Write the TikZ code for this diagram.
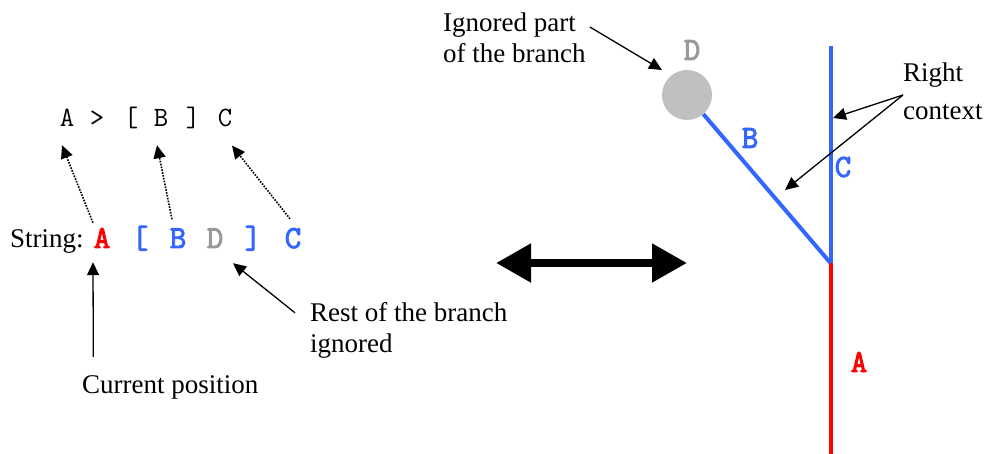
\documentclass[tikz,border=0pt]{standalone}
\usepackage{fontspec}
\setmainfont{Liberation Serif}
\newfontfamily\monofont{Latin Modern Mono}
\newfontfamily\monobfont[FakeBold=3]{Latin Modern Mono}
\usetikzlibrary{arrows.meta}
\definecolor{treeblue}{HTML}{3366FF}
\definecolor{treered}{HTML}{FF0000}
\definecolor{dgrey}{HTML}{999999}
\definecolor{cgrey}{HTML}{C0C0C0}
\tikzset{
  serif/.style={inner sep=0pt, font=\fontsize{27}{31}\selectfont, align=left},
  monoreg/.style={inner sep=0pt, anchor=base, font=\monofont\fontsize{28}{28}\selectfont},
  monobold/.style={inner sep=0pt, anchor=base, font=\monobfont\fontsize{32}{32}\selectfont},
  treelabel/.style={inner sep=0pt, font=\monobfont\fontsize{32}{32}\selectfont},
  arr/.style={-{Triangle[length=13pt,width=12pt]}, line width=1.3pt},
  dotarr/.style={-{Triangle[length=13pt,width=12pt]}, line width=1.6pt, dash pattern=on 1.6pt off 1.3pt},
  branch/.style={line width=4pt},
}
\begin{document}
\begin{tikzpicture}[x=1pt,y=-1pt]
\useasboundingbox (0,0) rectangle (985,454);
% top pattern
\node[monoreg] (tA) at (67,127) {A};
\node[monoreg] (tgt) at (97,127) {>};
\node[monoreg] (tlb) at (131,127) {[};
\node[monoreg] (tB) at (161,127) {B};
\node[monoreg] (trb) at (193,127) {]};
\node[monoreg] (tC) at (225,127) {C};
% string
\node[serif, anchor=base west] (str) at (10,248) {String:};
\node[monobold, text=treered] (sA) at (102,248) {A};
\node[monobold, text=treeblue] (slb) at (140,248) {[};
\node[monobold, text=treeblue] (sB) at (178,248) {B};
\node[monobold, text=dgrey] (sD) at (215,248) {D};
\node[monobold, text=treeblue] (srb) at (253,248) {]};
\node[monobold, text=treeblue] (sC) at (293,248) {C};
% dotted arrows
\draw[dotarr] ([xshift=-9pt,yshift=5pt]sA.north) -- ([xshift=-5pt,yshift=-18pt]tA.south);
\draw[dotarr] ([xshift=-6pt,yshift=9pt]sB.north) -- ([xshift=-4pt,yshift=-18pt]tB.south);
\draw[dotarr] ([xshift=-3pt,yshift=9pt]sC.north) -- ([xshift=7pt,yshift=-18pt]tC.south);
% current position
\node[serif, anchor=base west] (cur) at (82,393) {Current position};
\draw[arr] ([xshift=-77pt,yshift=18pt]cur.north) -- ([xshift=-9pt,yshift=-14pt]sA.south);
% rest of the branch
\node[serif, anchor=base west] (rest) at (310,352) {Rest of the branch\\ignored};
\draw[arr] ([xshift=-15pt,yshift=-11pt]rest.north west) -- ([xshift=18pt,yshift=-15pt]sD.south);
% double arrow
\coordinate (dl) at (496,263);
\coordinate (dr) at (687,263);
\draw[line width=8pt, {Triangle[length=35pt,width=37pt]}-{Triangle[length=35pt,width=37pt]}] (dl) -- (dr);
% tree
\coordinate (root) at (830.5,263);
\coordinate (top) at (830.5,46);
\coordinate (bot) at (830.5,456);
\node[circle, fill=cgrey, minimum size=50pt, inner sep=0pt] (dnode) at (687,95) {};
\draw[branch, treered] (root) -- (bot);
\draw[branch, treeblue] (root) -- (top);
\draw[branch, treeblue] (root) -- (dnode);
\node[treelabel, text=dgrey] (lD) at (692,50) {D};
\node[treelabel, text=treeblue] (lB) at (750,138) {B};
\node[treelabel, text=treeblue] (lC) at (843,167) {C};
\node[treelabel, text=treered] (lA) at (859,362) {A};
% ignored part
\node[serif, anchor=base west] (ign) at (443,63) {Ignored part\\of the branch};
\draw[arr] ([xshift=147pt,yshift=-14pt]ign.north west) -- ([xshift=-25pt,yshift=25pt]dnode.center);
% right context
\node[serif, anchor=base west] (rc) at (903,120) {Right\\[7pt]context};
\coordinate (rcs) at (903,95);
\coordinate (tipC) at (833,118);
\coordinate (tipB) at (785,190);
\draw[arr] (rcs) -- (tipC);
\draw[arr] (rcs) -- (tipB);
\end{tikzpicture}
\end{document}
